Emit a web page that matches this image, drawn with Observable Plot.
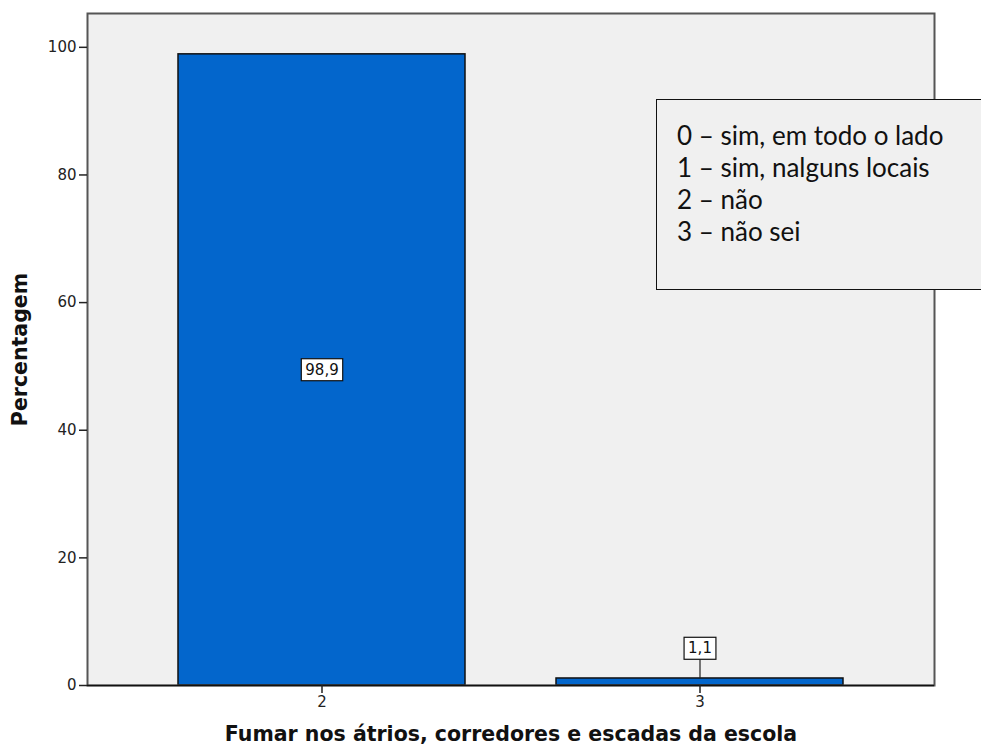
<!DOCTYPE html>
<html>
<head>
<meta charset="utf-8">
<script src="https://cdn.jsdelivr.net/npm/d3@7"></script>
<script src="https://cdn.jsdelivr.net/npm/@observablehq/plot@0.6"></script>
<style>
  html, body { margin: 0; padding: 0; background: #fff; overflow: hidden; }
  #wrap { position: relative; width: 981px; height: 754px; }
  #legend {
    position: absolute; left: 656px; top: 99px; width: 340px; height: 191px;
    box-sizing: border-box; border: 1.5px solid #111; background: #f0f0f0;
    font-family: Lato, "Open Sans", sans-serif; font-size: 26px; line-height: 32px;
    color: #111; padding: 19px 0 0 20px;
  }
</style>
</head>
<body>
<div id="wrap"></div>
<script>
const categories = ["2", "3"];
const percentages = [98.9, 1.1];
const valueLabels = ["98,9", "1,1"];
const yTicks = [0, 20, 40, 60, 80, 100];
const xTitle = "Fumar nos átrios, corredores e escadas da escola";
const yTitle = "Percentagem";
const legendLines = ["0 – sim, em todo o lado", "1 – sim, nalguns locais", "2 – não", "3 – não sei"];

const data = categories.map((c, i) => ({cat: c, pct: percentages[i], label: valueLabels[i]}));
// label position: inside the bar middle for tall bars, above with leader for short bars
const labelData = data.map(d => ({...d, ly: d.pct > 10 ? d.pct / 2 : d.pct + 4.7, small: d.pct <= 10}));
const leaders = labelData.filter(d => d.small);

const chart = Plot.plot({
  width: 981,
  height: 754,
  marginLeft: 87,
  marginRight: 47,
  marginTop: 13,
  marginBottom: 69,
  style: {fontFamily: "DejaVu Sans, sans-serif", fontSize: "15px", background: "white", color: "#222"},
  x: {domain: categories, padding: 0.24},
  y: {domain: [0, 105.3]},
  marks: [
    Plot.frame({fill: "#f0f0f0", stroke: null}),
    Plot.barY(data, {x: "cat", y: "pct", fill: "#0366cc", stroke: "#111", strokeWidth: 1.5}),
    Plot.frame({stroke: "#555", strokeWidth: 2}),
    Plot.ruleY([0], {stroke: "#111", strokeWidth: 1.5}),
    Plot.axisX({tickSize: 8, tickPadding: 3, label: null, fontSize: 15, stroke: "#222", strokeWidth: 1.5}),
    Plot.axisY({ticks: yTicks, tickSize: 8, tickPadding: 3, label: null, fontSize: 15, stroke: "#222", strokeWidth: 1.5}),
    Plot.text([xTitle], {frameAnchor: "bottom", dy: 55, fontWeight: "bold", fontSize: 20.5, fill: "#111"}),
    Plot.text([yTitle], {frameAnchor: "left", dx: -67, rotate: -90, textAnchor: "middle", fontWeight: "bold", fontSize: 20.5, fill: "#111"}),
    Plot.link(leaders, {x1: "cat", x2: "cat", y1: "pct", y2: d => d.ly - 1.7, stroke: "#222", strokeWidth: 1.2}),
    Plot.text(labelData, {x: "cat", y: "ly", text: "label", fontSize: 15, fill: "#111"})
  ]
});

const wrap = document.getElementById("wrap");
wrap.appendChild(chart);

// white boxed value labels, centred on the band
const bw = chart.scale("x").bandwidth || 0;
const groups = chart.querySelectorAll('g[aria-label="text"]');
const labelGroup = groups[groups.length - 1];
labelGroup.querySelectorAll("text").forEach(t => {
  const b = t.getBBox();
  const r = document.createElementNS("http://www.w3.org/2000/svg", "rect");
  r.setAttribute("x", b.x - 4);
  r.setAttribute("y", b.y - 2);
  r.setAttribute("width", b.width + 8);
  r.setAttribute("height", b.height + 4);
  r.setAttribute("fill", "white");
  r.setAttribute("stroke", "#111");
  r.setAttribute("stroke-width", "1.2");
  if (t.getAttribute("transform")) r.setAttribute("transform", t.getAttribute("transform"));
  labelGroup.insertBefore(r, t);
});
// shift group to band centre if text was placed at band start
const firstText = labelGroup.querySelector("text");
const bb = firstText.getBoundingClientRect();
const barRect = chart.querySelector('g[aria-label="bar"] rect').getBoundingClientRect();
const offset = (barRect.left + barRect.width / 2) - (bb.left + bb.width / 2);
if (Math.abs(offset) > 2) {
  const prev = labelGroup.getAttribute("transform") || "";
  labelGroup.setAttribute("transform", `${prev} translate(${offset},0)`);
}

const legend = document.createElement("div");
legend.id = "legend";
legend.innerHTML = legendLines.map(s => `<div>${s}</div>`).join("");
wrap.appendChild(legend);
</script>
</body>
</html>
